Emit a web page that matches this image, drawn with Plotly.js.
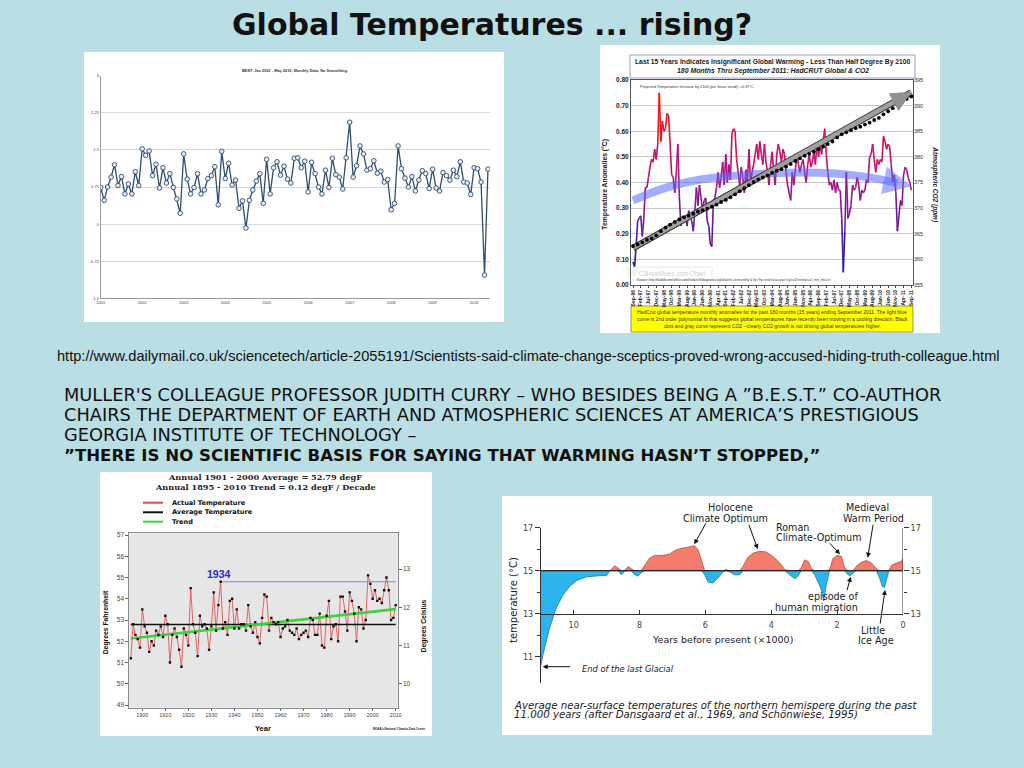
<!DOCTYPE html>
<html>
<head>
<meta charset="utf-8">
<script src="https://cdn.plot.ly/plotly-3.0.1.min.js"></script>
<style>
html,body{margin:0;padding:0;background:#b9dee3;overflow:hidden}
#chart{width:1024px;height:768px}
</style>
</head>
<body>
<div id="chart"></div>
<script>
// ================= DATA =================
// Panel 1: BEST monthly anomaly, Jan 2001 - May 2010
const BEST_START_YEAR = 2001;
const BEST_ANOMALY = [
 0.74,0.48,0.75,0.95,1.20,0.78,0.96,0.61,0.81,0.61,1.06,0.78,
 1.52,1.39,1.48,0.98,1.21,0.73,1.14,0.83,1.02,0.74,0.51,0.22,
 1.42,0.91,0.61,0.74,1.02,0.61,0.69,0.92,0.98,1.16,0.39,1.47,
 0.92,1.23,0.79,0.89,0.32,0.47,-0.08,0.48,0.69,0.87,1.02,0.42,
 1.31,0.61,1.14,1.26,0.99,1.17,0.91,0.83,1.33,1.34,1.14,1.27,
 0.65,1.25,1.02,0.75,0.61,1.09,0.74,1.33,1.00,0.95,0.71,1.34,
 2.06,0.95,1.18,1.58,1.42,1.09,1.12,1.28,1.03,1.07,0.85,0.90,
 0.29,0.42,1.58,1.12,0.93,0.75,0.96,0.67,0.89,1.08,1.02,0.72,
 1.11,0.73,0.67,1.04,0.98,0.89,1.09,0.96,1.26,0.85,0.83,0.60,
 1.14,1.12,0.85,-1.03,1.11];
const BEST_XTICKS = [2001,2002,2003,2004,2005,2006,2007,2008,2009,2010];
const BEST_YTICKS = [-1.5,-0.75,0,0.75,1.5,2.25,3];
const BEST_YTICKTEXT = ['-1.5','-0.75','0','0.75','1.5','2.25','3'];

// Panel 2: HadCRUT monthly anomalies Sep-96 .. Sep-11 and CO2
const HAD_MONTH_LABELS = ['Sep-96','Feb-97','Jul-97','Dec-97','May-98','Oct-98','Mar-99','Aug-99','Jan-00','Jun-00','Nov-00','Apr-01','Sep-01','Feb-02','Jul-02','Dec-02','May-03','Oct-03','Mar-04','Aug-04','Jan-05','Jun-05','Nov-05','Apr-06','Sep-06','Feb-07','Jul-07','Dec-07','May-08','Oct-08','Mar-09','Aug-09','Jan-10','Jun-10','Nov-10','Apr-11','Sep-11'];
const HAD_LABEL_STEP = 5;
const HAD_TEMP = [
 0.09,0.07,0.15,0.25,
 0.26,0.27,0.19,0.26,0.38,0.38,0.42,0.46,0.49,0.48,0.53,0.49,
 0.55,0.75,0.56,0.64,0.60,0.61,0.67,0.66,0.55,0.43,0.42,0.36,
 0.44,0.55,0.34,0.23,0.27,0.25,0.27,0.23,0.29,0.26,0.25,0.21,
 0.29,0.38,0.31,0.39,0.34,0.29,0.33,0.34,0.25,0.23,0.16,0.15,
 0.33,0.34,0.38,0.44,0.38,0.42,0.48,0.39,0.51,0.40,0.47,0.41,
 0.59,0.61,0.60,0.49,0.44,0.39,0.46,0.42,0.36,0.45,0.40,0.53,
 0.40,0.44,0.47,0.51,0.55,0.49,0.56,0.51,0.47,0.55,0.48,0.44,
 0.39,0.47,0.52,0.44,0.39,0.51,0.55,0.52,0.48,0.53,0.51,0.44,
 0.39,0.36,0.33,0.44,0.39,0.45,0.51,0.47,0.44,0.47,0.49,0.44,
 0.40,0.47,0.51,0.46,0.48,0.52,0.47,0.55,0.50,0.55,0.51,0.56,
 0.61,0.51,0.44,0.39,0.40,0.37,0.41,0.36,0.40,0.37,0.37,0.26,
 0.05,0.21,0.44,0.26,0.28,0.31,0.39,0.37,0.38,0.42,0.39,0.33,
 0.37,0.36,0.37,0.41,0.40,0.50,0.51,0.55,0.49,0.44,0.49,0.47,
 0.49,0.48,0.58,0.56,0.53,0.55,0.54,0.47,0.40,0.43,0.36,0.21,
 0.27,0.33,0.31,0.43,0.46,0.45,0.42,0.40,0.37];
const HAD_CO2_STEP = 3; // months between CO2 dots
const HAD_CO2 = [362.6,362.9,363.3,363.8,364.1,364.7,365.5,366.2,366.8,367.3,
 367.8,368.2,368.5,368.9,369.3,369.6,369.9,370.3,370.7,371.2,
 371.6,372.1,372.7,373.3,373.9,374.5,375.1,375.6,376.0,376.4,
 376.9,377.3,377.6,378.1,378.6,379.2,379.7,380.2,380.6,381.0,
 381.5,382.0,382.5,383.0,383.8,384.4,384.8,385.2,385.6,385.9,
 386.3,386.7,387.2,387.6,388.3,388.9,389.5,390.1,390.7,391.3,391.8];
const HAD_TREND_MONTHS = [0, 180];
const HAD_CO2_TREND = [362.2, 392.6];
const HAD_FIT_MONTHS = [0, 20, 42, 90, 128, 156, 171, 180];
const HAD_FIT = [0.33, 0.377, 0.41, 0.436, 0.436, 0.416, 0.397, 0.385];

// Panel 3: NOAA contiguous US annual temperature (degF), 1895-2010
const NOAA_START_YEAR = 1895;
const NOAA_TEMP_F = [
 51.2,52.8,52.3,52.1,51.7,53.5,52.7,52.4,51.5,52.0,51.8,52.5,52.3,52.7,52.2,53.2,52.8,51.0,52.3,52.6,
 52.2,51.6,50.8,52.6,52.3,51.8,54.5,52.8,52.4,51.3,53.2,52.7,52.8,52.6,51.6,52.7,54.3,52.5,53.7,54.8,
 52.6,52.9,52.3,53.9,54.0,52.6,53.5,52.6,52.8,52.8,52.5,53.7,52.7,52.4,52.9,52.2,51.9,53.1,54.2,54.1,
 52.5,53.1,52.9,52.8,52.9,52.2,52.6,52.7,53.0,52.5,52.4,52.3,52.6,52.1,52.3,52.4,52.5,52.2,53.1,53.0,
 52.3,52.3,53.3,51.8,51.7,53.2,53.9,52.1,52.7,52.8,52.0,54.1,54.1,53.4,52.5,54.3,53.9,53.3,52.0,53.6,
 53.5,52.6,53.0,55.1,54.7,54.0,54.4,53.9,54.0,53.8,54.4,55.0,54.4,53.0,53.1,53.7];
const NOAA_AVG_F = 52.79;
const NOAA_TREND_F = [52.13, 53.51];
const NOAA_RECORD_YEAR = 1934;
const NOAA_XTICKS = [1900,1910,1920,1930,1940,1950,1960,1970,1980,1990,2000,2010];
const NOAA_FTICKS = [49,50,51,52,53,54,55,56,57];
const NOAA_CTICKS = [10,11,12,13];

// Panel 4: Holocene northern hemisphere temperature (kyr before present, degC)
const HOLO_KYR = [11.0,10.93,10.73,10.53,10.32,10.12,9.92,9.62,9.21,9.0,8.9,8.75,8.65,8.55,8.45,8.35,8.25,8.15,8.05,7.95,
 7.84,7.69,7.54,7.29,7.09,6.88,6.68,6.48,6.33,6.22,6.12,6.02,5.92,5.77,5.62,5.47,5.36,5.26,5.11,4.96,
 4.86,4.71,4.55,4.35,4.15,3.95,3.74,3.59,3.44,3.29,3.19,3.09,2.99,2.88,2.78,2.68,2.58,2.48,2.41,2.33,
 2.23,2.13,2.0,1.87,1.77,1.67,1.6,1.52,1.42,1.27,1.11,0.96,0.81,0.71,0.63,0.56,0.49,0.43,0.35,0.2,0.05,0.0];
const HOLO_TEMP = [10.55,11.1,12.33,13.26,13.88,14.27,14.53,14.71,14.77,14.77,15.0,15.23,15.1,14.81,14.97,15.2,15.1,14.81,14.75,14.9,
 15.25,15.59,15.71,15.71,15.78,15.98,16.05,16.13,16.16,15.98,15.43,14.81,14.47,14.43,14.66,14.94,15.05,14.94,14.81,14.81,
 15.2,15.62,15.82,15.9,15.87,15.67,15.36,15.05,14.81,14.63,14.74,15.12,15.5,15.43,15.1,14.81,14.5,14.12,13.6,14.35,
 15.05,15.56,15.71,15.67,15.12,14.81,14.77,14.89,15.2,15.39,15.47,15.36,15.1,14.66,14.27,14.22,14.66,15.0,15.25,15.36,15.43,15.59];
const HOLO_BASE = 15;
const HOLO_XTICKS = [0,2,4,6,8,10];
const HOLO_LTICKS = [11,13,15,17];
const HOLO_RTICKS = [13,15,17];

// ================= HELPERS =================
const W = 1024, H = 768;
const PX = x => x / W, PY = y => 1 - y / H;
const SANS = 'Liberation Sans, Arial, sans-serif';
const WIDE = 'DejaVu Sans, Verdana, sans-serif';
const COMIC = 'DejaVu Sans, Verdana, sans-serif';
const SERIF = 'DejaVu Serif, Liberation Serif, serif';

function txt(text, x, y, size, o = {}) {
  return { text, x: PX(x), y: PY(y), xref: 'paper', yref: 'paper', showarrow: false,
    xanchor: o.anchor || 'center', yanchor: 'middle', textangle: o.angle || 0,
    font: { family: o.family || SANS, size, color: o.color || '#222' } };
}
function arrow(xt, yt, xs, ys, o = {}) {
  return { text: '', x: PX(xt), y: PY(yt), xref: 'paper', yref: 'paper', showarrow: true,
    ax: xs - xt, ay: ys - yt, arrowhead: 2, arrowsize: o.size || 1, arrowwidth: o.width || 1,
    arrowcolor: o.color || '#111' };
}
function rect(x0, y0, x1, y1, fill, line, lw) {
  return { type: 'rect', xref: 'paper', yref: 'paper', x0: PX(x0), x1: PX(x1), y0: PY(y0), y1: PY(y1),
    fillcolor: fill, line: { color: line || 'rgba(0,0,0,0)', width: lw || 0 }, layer: 'below' };
}
function hline(x0, x1, y, color, w) {
  return { type: 'line', xref: 'paper', yref: 'paper', x0: PX(x0), x1: PX(x1), y0: PY(y), y1: PY(y),
    line: { color, width: w } };
}

const traces = [];
// ---------- Panel 1 ----------
const bestX = BEST_ANOMALY.map((_, i) => BEST_START_YEAR + i / 12);
traces.push({ type: 'scatter', x: bestX, y: BEST_ANOMALY, xaxis: 'x', yaxis: 'y', mode: 'lines+markers',
  line: { color: '#2e4d70', width: 1.3 },
  marker: { symbol: 'circle', size: 4.6, color: '#e4ebf3', line: { color: '#2e4d70', width: 0.9 } }, hoverinfo: 'skip' });

// ---------- Panel 2 ----------
const HAD_BINS = [0.15, 0.22, 0.30, 0.38, 0.46, 0.54, 0.63];
const HAD_COLS = ['#24189c', '#4a1ca6', '#6c1a9f', '#8d1793', '#ad1384', '#c8106c', '#e01040', '#f41616'];
const segs = HAD_COLS.map(() => ({ x: [], y: [] }));
for (let i = 0; i < HAD_TEMP.length - 1; i++) {
  const m = (HAD_TEMP[i] + HAD_TEMP[i + 1]) / 2;
  let b = HAD_BINS.findIndex(t => m < t); if (b < 0) b = HAD_BINS.length;
  segs[b].x.push(i, i + 1, null); segs[b].y.push(HAD_TEMP[i], HAD_TEMP[i + 1], null);
}
segs.forEach((s, k) => traces.push({ type: 'scatter', x: s.x, y: s.y, xaxis: 'x2', yaxis: 'y2', mode: 'lines',
  connectgaps: false, line: { color: HAD_COLS[k], width: 1.6 }, hoverinfo: 'skip' }));
traces.push({ type: 'scatter', x: HAD_FIT_MONTHS.slice(0, -1), y: HAD_FIT.slice(0, -1), xaxis: 'x2', yaxis: 'y2', mode: 'lines',
  line: { color: 'rgba(85,105,255,0.55)', width: 8, shape: 'spline' }, hoverinfo: 'skip' });
traces.push({ type: 'scatter', x: HAD_TREND_MONTHS, y: HAD_CO2_TREND, xaxis: 'x2', yaxis: 'y3', mode: 'lines',
  line: { color: '#3a3a3a', width: 6.5 }, hoverinfo: 'skip' });
traces.push({ type: 'scatter', x: HAD_TREND_MONTHS, y: HAD_CO2_TREND, xaxis: 'x2', yaxis: 'y3', mode: 'lines',
  line: { color: '#a0a0a0', width: 4.5 }, hoverinfo: 'skip' });
traces.push({ type: 'scatter', x: HAD_CO2.map((_, i) => i * HAD_CO2_STEP), y: HAD_CO2, xaxis: 'x2', yaxis: 'y3',
  mode: 'markers', marker: { size: 3.8, color: '#000' }, hoverinfo: 'skip' });

// ---------- Panel 3 ----------
const noaaX = NOAA_TEMP_F.map((_, i) => NOAA_START_YEAR + i);
const nLast = noaaX[noaaX.length - 1];
const recF = NOAA_TEMP_F[NOAA_RECORD_YEAR - NOAA_START_YEAR];
traces.push({ type: 'scatter', x: noaaX, y: NOAA_TEMP_F, xaxis: 'x3', yaxis: 'y4', mode: 'lines',
  line: { color: '#e25555', width: 0.9 }, hoverinfo: 'skip' });
traces.push({ type: 'scatter', x: [noaaX[0], nLast], y: [NOAA_AVG_F, NOAA_AVG_F], xaxis: 'x3', yaxis: 'y4', mode: 'lines',
  line: { color: '#111', width: 1.6 }, hoverinfo: 'skip' });
traces.push({ type: 'scatter', x: [noaaX[0], nLast], y: NOAA_TREND_F, xaxis: 'x3', yaxis: 'y4', mode: 'lines',
  line: { color: '#3fcf3f', width: 2.6 }, hoverinfo: 'skip' });
traces.push({ type: 'scatter', x: [NOAA_RECORD_YEAR, nLast], y: [recF, recF], xaxis: 'x3', yaxis: 'y4', mode: 'lines',
  line: { color: '#6a6aff', width: 0.8 }, hoverinfo: 'skip' });
traces.push({ type: 'scatter', x: noaaX, y: NOAA_TEMP_F, xaxis: 'x3', yaxis: 'y4', mode: 'markers',
  marker: { symbol: 'square', size: 2.4, color: '#111' }, hoverinfo: 'skip' });
traces.push({ type: 'scatter', x: noaaX, y: NOAA_TEMP_F.map(f => (f - 32) * 5 / 9), xaxis: 'x3', yaxis: 'y5', mode: 'lines',
  line: { width: 0, color: 'rgba(0,0,0,0)' }, hoverinfo: 'skip' });

// ---------- Panel 4 ----------
const hBase = HOLO_TEMP.map(() => HOLO_BASE);
const hWarm = HOLO_TEMP.map(v => Math.max(v, HOLO_BASE));
const hCold = HOLO_TEMP.map(v => Math.min(v, HOLO_BASE));
const invisible = { width: 0, color: 'rgba(0,0,0,0)' };
traces.push({ type: 'scatter', x: HOLO_KYR, y: hBase, xaxis: 'x4', yaxis: 'y6', mode: 'lines', line: invisible, hoverinfo: 'skip' });
traces.push({ type: 'scatter', x: HOLO_KYR, y: hWarm, xaxis: 'x4', yaxis: 'y6', mode: 'lines', fill: 'tonexty',
  fillcolor: '#f47c6c', line: { color: '#c84a3a', width: 0.8 }, hoverinfo: 'skip' });
traces.push({ type: 'scatter', x: HOLO_KYR, y: hBase, xaxis: 'x4', yaxis: 'y6', mode: 'lines', line: invisible, hoverinfo: 'skip' });
traces.push({ type: 'scatter', x: HOLO_KYR, y: hCold, xaxis: 'x4', yaxis: 'y6', mode: 'lines', fill: 'tonexty',
  fillcolor: '#2cb4ec', line: { color: '#1878b8', width: 0.8 }, hoverinfo: 'skip' });
traces.push({ type: 'scatter', x: HOLO_KYR, y: hBase, xaxis: 'x4', yaxis: 'y6', mode: 'lines',
  line: { color: '#000', width: 1.1 }, hoverinfo: 'skip' });
traces.push({ type: 'scatter', x: HOLO_KYR, y: hBase, xaxis: 'x4', yaxis: 'y7', mode: 'lines', line: invisible, hoverinfo: 'skip' });

// ================= LAYOUT =================
const noaaFRange = [48.873, 57.08];
const holoRange = [9.79, 17];
const tickGray = '#444';
const lastFit = HAD_FIT.length - 1;

const layout = {
  width: W, height: H, margin: { l: 0, r: 0, t: 0, b: 0 },
  paper_bgcolor: '#b9dee3', plot_bgcolor: 'rgba(0,0,0,0)', showlegend: false,
  font: { family: SANS, color: '#222' },
  // Panel 1
  xaxis: { domain: [PX(100.7), PX(489.9)], anchor: 'y', range: [2001, 2010.38], tickmode: 'array',
    tickvals: BEST_XTICKS, ticktext: BEST_XTICKS.map(String), showgrid: false, zeroline: false,
    showline: true, linecolor: '#9a9a9a', linewidth: 1, ticks: '', tickfont: { size: 4, color: tickGray } },
  yaxis: { domain: [PY(298.3), PY(75.7)], anchor: 'x', range: [-1.5, 3], tickmode: 'array',
    tickvals: BEST_YTICKS, ticktext: BEST_YTICKTEXT, gridcolor: '#d9d9d9', zeroline: false,
    showline: true, linecolor: '#9a9a9a', ticks: '', tickfont: { size: 4, color: tickGray } },
  // Panel 2
  xaxis2: { domain: [PX(631), PX(913)], anchor: 'y2', range: [-1.3, 181.1], tickmode: 'array',
    tickvals: HAD_MONTH_LABELS.map((_, i) => i * HAD_LABEL_STEP), ticktext: HAD_MONTH_LABELS,
    tickangle: -90, tickfont: { size: 5, color: '#222', weight: 'bold' }, ticks: 'outside', ticklen: 2,
    tickcolor: '#444', showline: true, mirror: true, linecolor: '#555', showgrid: false, zeroline: false },
  yaxis2: { domain: [PY(285), PY(80)], anchor: 'x2', range: [0, 0.8], dtick: 0.1, tickformat: '.2f',
    tickfont: { size: 6.5, color: '#222', weight: 'bold' }, gridcolor: '#c9c9c9', showline: true, mirror: true,
    linecolor: '#555', zeroline: false, ticks: '' },
  yaxis3: { overlaying: 'y2', side: 'right', anchor: 'x2', range: [355, 395], dtick: 5,
    tickfont: { size: 5.5, color: '#333' }, showgrid: false, zeroline: false, ticks: '' },
  // Panel 3
  xaxis3: { domain: [PX(129.3), PX(397.7)], anchor: 'y4', range: [1894.35, 2010.87], tickmode: 'array',
    tickvals: NOAA_XTICKS, tickfont: { size: 5.5, color: tickGray }, ticks: 'outside', ticklen: 2,
    tickcolor: '#666', showline: true, mirror: true, linecolor: '#8a8a8a', showgrid: false, zeroline: false },
  yaxis4: { domain: [PY(707.7), PY(533.3)], anchor: 'x3', range: noaaFRange, tickmode: 'array',
    tickvals: NOAA_FTICKS, tickfont: { size: 6.5, color: tickGray }, ticks: 'outside', ticklen: 3,
    tickcolor: '#666', showline: true, mirror: true, linecolor: '#8a8a8a', showgrid: false, zeroline: false },
  yaxis5: { overlaying: 'y4', side: 'right', anchor: 'x3', range: noaaFRange.map(f => (f - 32) * 5 / 9),
    tickmode: 'array', tickvals: NOAA_CTICKS, tickfont: { size: 6.5, color: tickGray }, ticks: 'outside',
    ticklen: 3, tickcolor: '#666', showgrid: false, zeroline: false },
  // Panel 4
  xaxis4: { domain: [PX(540.7), PX(903)], anchor: 'free', position: PY(613.6), range: [11, 0], tickmode: 'array',
    tickvals: HOLO_XTICKS, ticks: 'inside', ticklen: 4, tickcolor: '#333', showline: true, linecolor: '#333',
    showgrid: false, zeroline: false, tickfont: { family: WIDE, size: 8, color: tickGray }, ticklabelstandoff: 4 },
  yaxis6: { domain: [PY(682.7), PY(527.7)], anchor: 'x4', range: holoRange, tickmode: 'array',
    tickvals: HOLO_LTICKS, ticks: 'outside', ticklen: 5, tickcolor: '#333',
    minor: { tickmode: 'array', tickvals: [12, 14, 16], ticks: 'outside', ticklen: 3, tickcolor: '#333' },
    showline: true, linecolor: '#333', showgrid: false, zeroline: false, tickfont: { family: WIDE, size: 8, color: tickGray } },
  yaxis7: { overlaying: 'y6', side: 'right', anchor: 'x4', range: holoRange, tickmode: 'array',
    tickvals: HOLO_RTICKS, ticks: 'outside', ticklen: 5, tickcolor: '#333',
    minor: { tickmode: 'array', tickvals: [14, 16], ticks: 'outside', ticklen: 3, tickcolor: '#333' },
    showline: false, showgrid: false, zeroline: false, tickfont: { family: WIDE, size: 8, color: tickGray } },
  shapes: [
    rect(84, 52, 504, 322, '#ffffff'),
    rect(600, 45, 940, 333, '#ffffff'),
    rect(100, 472, 432, 736, '#ffffff'),
    rect(502, 496, 932, 735, '#ffffff'),
    rect(129.3, 533.3, 397.7, 707.7, '#e6e6e6'),
    rect(630, 55, 915, 78, '#ffffff', '#9a9ad0', 1),
    rect(631, 306, 913, 332, '#ffff00', '#777777', 0.8),
    Object.assign(rect(628, 267, 712, 280, 'rgba(0,0,0,0)', '#e2e2e2', 0.8), { layer: 'above' }),
    hline(143, 163, 502.7, '#e24848', 2),
    hline(143, 163, 512.3, '#111111', 2),
    hline(143, 163, 521.7, '#3fcf3f', 2),
    { type: 'line', xref: 'x4', yref: 'y6', x0: 0, x1: 0, y0: 13, y1: 17, line: { color: '#333', width: 1 } }
  ],
  annotations: [
    // Slide text
    txt('<b>Global Temperatures ... rising?</b>', 492, 24, 30, { family: COMIC, color: '#111' }),
    txt('http://www.dailymail.co.uk/sciencetech/article-2055191/Scientists-said-climate-change-sceptics-proved-wrong-accused-hiding-truth-colleague.html', 55, 356, 14.6, { anchor: 'left', color: '#111' }),
    txt('MULLER\'S COLLEAGUE PROFESSOR JUDITH CURRY – WHO BESIDES BEING A ”B.E.S.T.” CO-AUTHOR', 62, 394, 17.8, { anchor: 'left', family: COMIC, color: '#111' }),
    txt('CHAIRS THE DEPARTMENT OF EARTH AND ATMOSPHERIC SCIENCES AT AMERICA’S PRESTIGIOUS', 62, 414, 17.8, { anchor: 'left', family: COMIC, color: '#111' }),
    txt('GEORGIA INSTITUTE OF TECHNOLOGY –', 62, 434, 17.8, { anchor: 'left', family: COMIC, color: '#111' }),
    txt('<b>”THERE IS NO SCIENTIFIC BASIS FOR SAYING THAT WARMING HASN’T STOPPED,”</b>', 62, 455, 16.6, { anchor: 'left', family: COMIC, color: '#111' }),
    // Panel 1
    txt('<b>BEST: Jan 2001 - May 2010, Monthly Data, No Smoothing.</b>', 294.7, 70, 3.9, { color: '#333' }),
    // Panel 2
    txt('<b>Last 15 Years Indicates Insignificant Global Warming - Less Than Half Degree By 2100</b>', 772.5, 61.7, 6.75, { color: '#222' }),
    txt('<b><i>180 Months Thru September 2011: HadCRUT Global &amp; CO2</i></b>', 772.5, 70.5, 6.9, { color: '#222' }),
    txt('<b>Temperature Anomalies (°C)</b>', 604.7, 184, 6.8, { angle: -90 }),
    txt('<b><i>Atmospheric CO2 (ppm)</i></b>', 934.7, 184, 6.5, { angle: 90 }),
    txt('Projected Temperature Increase by 2100 (per linear trend): +0.37°C', 638, 86.7, 3.8, { anchor: 'left', color: '#333' }),
    txt('CO2', 902, 94.3, 3.6, { color: '#222' }),
    txt('© C3Headlines.com Chart', 668, 273.5, 6.3, { color: '#cfcfcf' }),
    txt('Source: http://hadobs.metoffice.com/hadcrut3/diagnostics/global/nh+sh/monthly &amp; ftp://ftp.cmdl.noaa.gov/ccg/co2/trends/co2_mm_mlo.txt', 635.3, 280.3, 3.2, { anchor: 'left', color: '#444' }),
    txt('HadCrut global temperature monthly anomalies for the past 180 months (15 years) ending September 2011. The light blue', 772, 311.7, 5.0, { color: '#333' }),
    txt('curve is 2nd order polynomial fit that suggests global temperatures have recently been moving in a cooling direction. Black', 772, 319, 5.0, { color: '#333' }),
    txt('dots and gray curve represent CO2 --clearly CO2 growth is not driving global temperatures higher.', 772, 326.3, 5.0, { color: '#333' }),
    { text: '', x: HAD_TREND_MONTHS[1], y: HAD_CO2_TREND[1], xref: 'x2', yref: 'y3', showarrow: true,
      ax: HAD_TREND_MONTHS[0] + 0.93 * (HAD_TREND_MONTHS[1] - HAD_TREND_MONTHS[0]),
      ay: HAD_CO2_TREND[0] + 0.93 * (HAD_CO2_TREND[1] - HAD_CO2_TREND[0]), axref: 'x2', ayref: 'y3',
      arrowhead: 2, arrowsize: 1.35, arrowwidth: 3, arrowcolor: '#909090' },
    { text: '', x: HAD_FIT_MONTHS[lastFit], y: HAD_FIT[lastFit], xref: 'x2', yref: 'y2', showarrow: true,
      ax: HAD_FIT_MONTHS[lastFit - 1], ay: HAD_FIT[lastFit - 1], axref: 'x2', ayref: 'y2',
      arrowhead: 2, arrowsize: 0.8, arrowwidth: 7, arrowcolor: 'rgba(85,105,255,0.5)' },
    // Panel 3
    txt('<b>Annual 1901 - 2000 Average = 52.79 degF</b>', 265, 477.3, 8.2, { family: SERIF, color: '#222' }),
    txt('<b>Annual 1895 - 2010 Trend = 0.12 degF / Decade</b>', 265, 486.7, 8.2, { family: SERIF, color: '#222' }),
    txt('<b>Actual Temperature</b>', 170, 502.7, 6.6, { anchor: 'left', family: WIDE, color: '#111' }),
    txt('<b>Average Temperature</b>', 170, 512.3, 6.6, { anchor: 'left', family: WIDE, color: '#111' }),
    txt('<b>Trend</b>', 170, 521.7, 6.6, { anchor: 'left', family: WIDE, color: '#111' }),
    txt('<b>1934</b>', 219, 573.5, 10.5, { color: '#2a2ad0' }),
    txt('<b>Degrees Fahrenheit</b>', 106, 622.3, 6.8, { angle: -90, color: '#111' }),
    txt('<b>Degrees Celsius</b>', 423.5, 626, 6.8, { angle: -90, color: '#111' }),
    txt('<b>Year</b>', 263, 728.3, 7.5, { color: '#111' }),
    txt('<b>NOAA\'s National Climatic Data Center</b>', 399, 729.3, 2.9, { color: '#222' }),
    // Panel 4
    txt('Holocene', 730, 507.7, 9.6, { family: WIDE, color: '#222' }),
    txt('Climate Optimum', 725.3, 518.3, 9.6, { family: WIDE, color: '#222' }),
    txt('Roman', 774, 527.7, 9.6, { anchor: 'left', family: WIDE, color: '#222' }),
    txt('Climate-Optimum', 774, 537.7, 9.6, { anchor: 'left', family: WIDE, color: '#222' }),
    txt('Medieval', 867.7, 507.7, 9.6, { family: WIDE, color: '#222' }),
    txt('Warm Period', 873.3, 518.3, 9.6, { family: WIDE, color: '#222' }),
    txt('episode of', 833, 596.7, 9.6, { family: WIDE, color: '#222' }),
    txt('human migration', 816.7, 607, 9.6, { family: WIDE, color: '#222' }),
    txt('Little', 873.3, 630, 9.6, { family: WIDE, color: '#222' }),
    txt('Ice Age', 875.7, 640.7, 9.6, { family: WIDE, color: '#222' }),
    txt('Years before present (×1000)', 722.7, 639.3, 9.5, { family: WIDE, color: '#222' }),
    txt('temperature (°C)', 513, 600, 10, { angle: -90, family: WIDE, color: '#222' }),
    txt('<i>End of the last Glacial</i>', 580, 668.7, 8.3, { anchor: 'left', family: WIDE, color: '#222' }),
    txt('<i>Average near-surface temperatures of the northern hemispere during the past</i>', 512, 705.5, 10.2, { anchor: 'left', family: WIDE, color: '#222' }),
    txt('<i>11.000 years (after Dansgaard et al., 1969, and Schönwiese, 1995)</i>', 512, 714.8, 10.2, { anchor: 'left', family: WIDE, color: '#222' }),
    arrow(694.3, 544.3, 706.7, 521.7),
    arrow(757.7, 549, 748.3, 523.3),
    arrow(840, 554.3, 828.3, 541.7),
    arrow(867.7, 557.7, 873.3, 523.3),
    arrow(850.7, 576.7, 846.7, 591.7),
    arrow(885, 590, 880, 625),
    arrow(542.7, 666.7, 571.7, 666.7)
  ]
};

Plotly.newPlot('chart', traces, layout, { staticPlot: true, displayModeBar: false });
</script>
</body>
</html>
